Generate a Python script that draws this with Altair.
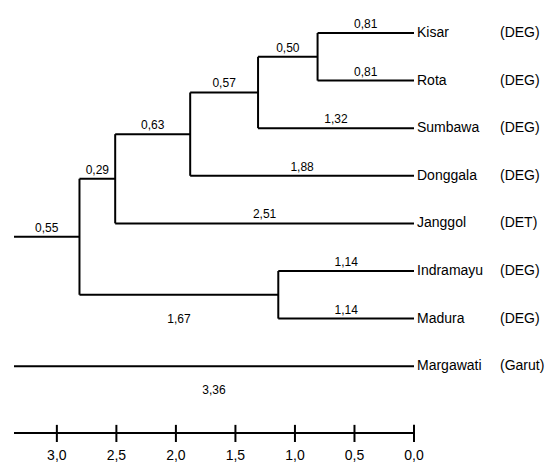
import altair as alt
import pandas as pd

# ---- data ----
leaves = ["Kisar", "Rota", "Sumbawa", "Donggala", "Janggol", "Indramayu", "Madura", "Margawati"]
groups = ["(DEG)", "(DEG)", "(DEG)", "(DEG)", "(DET)", "(DEG)", "(DEG)", "(Garut)"]

node_names = ["n1", "n2", "n3", "n4", "n5", "n6", "root"]
node_children = [["Kisar", "Rota"], ["n1", "Sumbawa"], ["n2", "Donggala"], ["n3", "Janggol"],
                 ["Indramayu", "Madura"], ["n4", "n5"], ["n6", "Margawati"]]
node_heights = [0.81, 1.31, 1.88, 2.51, 1.14, 2.81, 3.36]

branch_child = ["Kisar", "Rota", "Sumbawa", "Donggala", "Janggol", "Indramayu", "Madura",
                "n1", "n2", "n3", "n4", "n5", "n6", "Margawati"]
branch_label = ["0,81", "0,81", "1,32", "1,88", "2,51", "1,14", "1,14",
                "0,50", "0,57", "0,63", "0,29", "1,67", "0,55", "3,36"]
label_below = ["n5", "Margawati"]

tick_values = [3.0, 2.5, 2.0, 1.5, 1.0, 0.5, 0.0]
tick_labels = ["3,0", "2,5", "2,0", "1,5", "1,0", "0,5", "0,0"]
axis_min, axis_max = 0.0, 3.36

# ---- build tree geometry (in data units) ----
ypos = {name: i for i, name in enumerate(leaves)}
height = {name: 0.0 for name in leaves}
parent = {}
for nm, ch, h in zip(node_names, node_children, node_heights):
    height[nm] = h
    ypos[nm] = sum(ypos[c] for c in ch) / len(ch)
    for c in ch:
        parent[c] = nm

segs = []
for c, p in parent.items():
    segs.append({"x": height[c], "x2": height[p], "y": ypos[c], "y2": ypos[c]})
for nm, ch in zip(node_names, node_children):
    if nm == "root":
        continue
    ys = [ypos[c] for c in ch]
    segs.append({"x": height[nm], "x2": height[nm], "y": min(ys), "y2": max(ys)})
seg_df = pd.DataFrame(segs)

lab_rows = []
for c, t in zip(branch_child, branch_label):
    p = parent[c]
    lab_rows.append({"xm": (height[c] + height[p]) / 2, "y": ypos[c], "text": t,
                     "below": c in label_below})
lab_df = pd.DataFrame(lab_rows)
above_df = lab_df[~lab_df["below"]]
below_df = lab_df[lab_df["below"]]

leaf_df = pd.DataFrame({"leaf": leaves, "group": groups, "y": list(range(len(leaves))),
                        "x": [0.0] * len(leaves)})

AXIS_Y = 8.403
tick_df = pd.DataFrame({"v": tick_values, "lab": tick_labels,
                        "y": [AXIS_Y - 0.17] * len(tick_values),
                        "y2": [AXIS_Y + 0.19] * len(tick_values),
                        "ty": [8.97] * len(tick_values)})
axis_df = pd.DataFrame({"x": [axis_max], "x2": [axis_min], "y": [AXIS_Y]})

FONT = "Liberation Sans"

xs = alt.Scale(domain=[axis_min, axis_max], reverse=True, nice=False, zero=False)
ys = alt.Scale(domain=[-0.525, 9.097], reverse=True, nice=False, zero=False)

X = lambda f: alt.X(f, type="quantitative", scale=xs, axis=None)
Y = lambda f: alt.Y(f, type="quantitative", scale=ys, axis=None)

tree = alt.Chart(seg_df).mark_rule(color="black", strokeWidth=2).encode(
    x=X("x"), x2="x2", y=Y("y"), y2="y2")

above = alt.Chart(above_df).mark_text(font=FONT, fontSize=12, color="black",
                                      baseline="alphabetic", dy=-5).encode(
    x=X("xm"), y=Y("y"), text="text:N")
below = alt.Chart(below_df).mark_text(font=FONT, fontSize=12, color="black",
                                      baseline="alphabetic", dy=28).encode(
    x=X("xm"), y=Y("y"), text="text:N")

leaf_txt = alt.Chart(leaf_df).mark_text(font=FONT, fontSize=14, color="black",
                                        align="left", baseline="middle", dx=3).encode(
    x=X("x"), y=Y("y"), text="leaf:N")
grp_txt = alt.Chart(leaf_df).mark_text(font=FONT, fontSize=14, color="black",
                                       align="left", baseline="middle", dx=86).encode(
    x=X("x"), y=Y("y"), text="group:N")

axis_line = alt.Chart(axis_df).mark_rule(color="black", strokeWidth=2).encode(
    x=X("x"), x2="x2", y=Y("y"))
ticks = alt.Chart(tick_df).mark_rule(color="black", strokeWidth=2).encode(
    x=X("v"), y=Y("y"), y2="y2")
tick_txt = alt.Chart(tick_df).mark_text(font=FONT, fontSize=14, color="black",
                                        baseline="alphabetic").encode(
    x=X("v"), y=Y("ty"), text="lab:N")

chart = alt.layer(tree, above, below, leaf_txt, grp_txt, axis_line, ticks, tick_txt).properties(
    width=400, height=458,
    autosize=alt.AutoSizeParams(type="none"),
    padding={"left": 6, "top": 0, "right": 137, "bottom": 0},
).configure_view(stroke=None)

chart.save("out.html", embed_options={"renderer": "svg", "actions": False})
